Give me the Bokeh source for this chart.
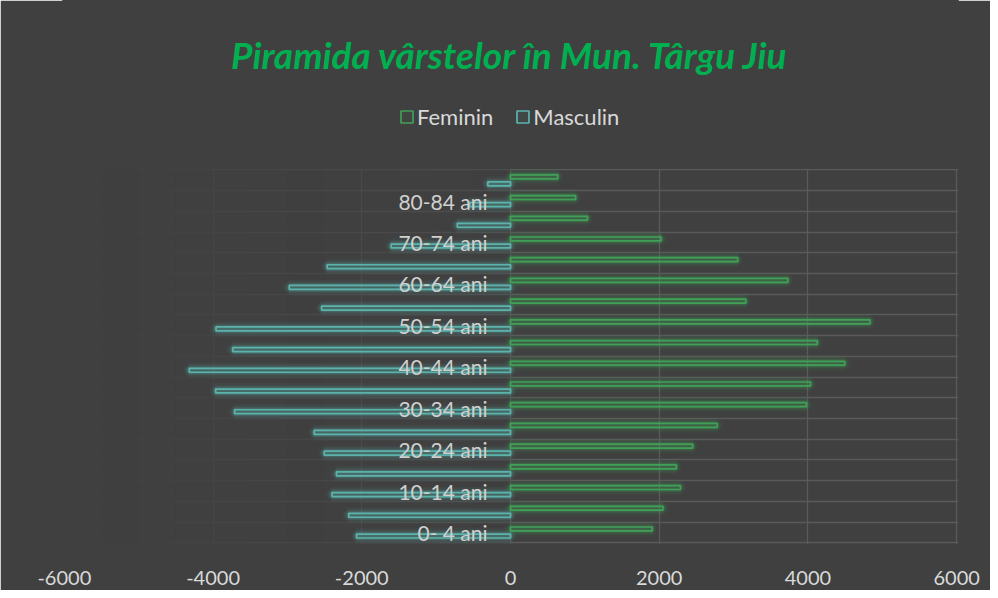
import numpy as np
from bokeh.plotting import figure
from bokeh.models import (ColumnDataSource, Legend, LegendItem,
                          FixedTicker, BoxAnnotation)
from bokeh.transform import dodge
from bokeh.core.properties import value
from bokeh.embed import file_html
from bokeh.resources import INLINE

# ---- data -------------------------------------------------------------
categories = ["0- 4 ani", "5- 9 ani", "10-14 ani", "15-19 ani", "20-24 ani",
              "25-29 ani", "30-34 ani", "35-39 ani", "40-44 ani", "45-49 ani",
              "50-54 ani", "55-59 ani", "60-64 ani", "65-69 ani", "70-74 ani",
              "75-79 ani", "80-84 ani", "85+ ani"]
feminin = [1905, 2050, 2285, 2230, 2450, 2780, 3980, 4035, 4495, 4125,
           4835, 3165, 3730, 3055, 2025, 1035, 875, 635]
masculin = [-2070, -2175, -2400, -2340, -2505, -2640, -3710, -3965, -4320, -3735,
            -3960, -2540, -2975, -2465, -1605, -715, -550, -305]
x_ticks = [-6000, -4000, -2000, 0, 2000, 4000, 6000]
title_text = "Piramida vârstelor în Mun. Târgu Jiu"
series_names = ["Feminin", "Masculin"]

# ---- styles / layout --------------------------------------------------
BG = "#404040"
GREEN = "#41a058"
TEAL = "#5cb3ac"
GRID = "#5a5a5a"
FONT = "Lato"

FRAME_H = 544        # frame height in px (from top of figure)
DATA_H = 374         # px used by the category bands
n = len(categories)
Y_TOP = n * FRAME_H / DATA_H
PAD = 25             # small x padding so the edge grid lines stay inside the frame
YPAD = 0.08


def y_from_top(px):
    return Y_TOP - px * (Y_TOP + YPAD) / FRAME_H


y_center = np.arange(n) + 0.5
src = ColumnDataSource(dict(cat=categories, y=y_center, f=feminin, m=masculin))

p = figure(width=990, height=590, x_range=(x_ticks[0] - PAD, x_ticks[-1] + PAD),
           y_range=(-YPAD, Y_TOP), output_backend="svg", toolbar_location=None,
           background_fill_color=BG, border_fill_color=BG,
           min_border_left=62, min_border_right=32, min_border_bottom=46,
           min_border_top=0, outline_line_color=BG, outline_line_width=1)

p.yaxis.visible = False
ax = p.xaxis[0]
ax.ticker = FixedTicker(ticks=x_ticks)
ax.major_label_overrides = {t: str(t) for t in x_ticks}
ax.axis_line_color = None
ax.major_tick_line_color = None
ax.minor_tick_line_color = None
ax.major_label_standoff = 20
ax.major_label_text_font = FONT
ax.major_label_text_font_size = "20px"
ax.major_label_text_color = "#d9d9d9"

p.xgrid.ticker = FixedTicker(ticks=x_ticks)
p.ygrid.ticker = FixedTicker(ticks=list(range(n + 1)))
for g in (p.xgrid[0], p.ygrid[0]):
    g.grid_line_color = GRID
    g.grid_line_width = 1.3

# hide vertical grid above the category bands (title/legend area)
p.add_layout(BoxAnnotation(bottom=n + 0.05, fill_color=BG, fill_alpha=1,
                           line_color=None, level="underlay"))

# fade of the grid on the negative side
step = 500
for k in range(int((0 - x_ticks[0]) / step)):
    left = x_ticks[0] + k * step
    mid = left + step / 2
    a = min(1.0, 0.45 + 0.1 * (-mid / 1000.0))
    p.add_layout(BoxAnnotation(left=(left if k else None), right=left + step,
                               top=n + 0.05, fill_color=BG, fill_alpha=a,
                               line_color=None, level="underlay"))

# glow
for w, a in [(12, 0.05), (8.5, 0.08), (5.5, 0.13), (3.5, 0.18)]:
    p.hbar(y=dodge("y", 0.17), left=0, right="f", height=0.19, source=src,
           fill_alpha=0, line_color=GREEN, line_width=w, line_alpha=a)
    p.hbar(y=dodge("y", -0.17), left="m", right=0, height=0.19, source=src,
           fill_alpha=0, line_color=TEAL, line_width=w, line_alpha=a)

rf = p.hbar(y=dodge("y", 0.17), left=0, right="f", height=0.19, source=src,
            fill_color=GREEN, fill_alpha=0.06, line_color=GREEN, line_width=1.7)
rm = p.hbar(y=dodge("y", -0.17), left="m", right=0, height=0.19, source=src,
            fill_color=TEAL, fill_alpha=0.06, line_color=TEAL, line_width=1.7)

# category labels (every second one) at the zero line
idx = list(range(0, n, 2))
lab = ColumnDataSource(dict(x=[0] * len(idx), y=[y_center[i] for i in idx],
                            t=[categories[i] for i in idx]))
p.text(x="x", y="y", text="t", source=lab, x_offset=-23, text_align="right",
       text_baseline="middle", text_font=value(FONT), text_font_size="21px",
       text_color="#d0d0d0")

# title
p.text(x=[0], y=[y_from_top(54)], text=[title_text], text_align="center",
       text_baseline="middle", text_font=value(FONT),
       text_font_style="bold italic", text_font_size="37px",
       text_color="#00b050")

legend = Legend(items=[LegendItem(label=series_names[0], renderers=[rf]),
                       LegendItem(label=series_names[1], renderers=[rm])],
                orientation="horizontal", location=(337, 414),
                label_text_font=FONT, label_text_font_size="22px",
                label_text_color="#d9d9d9", glyph_width=15, glyph_height=15,
                label_standoff=3, spacing=22, padding=0, margin=0,
                background_fill_alpha=0, border_line_color=None)
p.add_layout(legend, "center")

open("out.html", "w").write(file_html(p, INLINE))
